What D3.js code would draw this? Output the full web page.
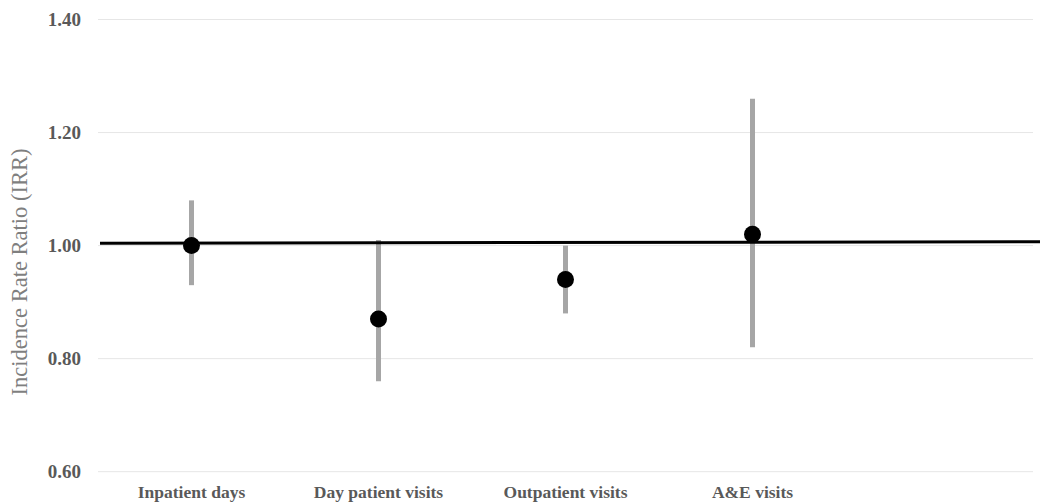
<!DOCTYPE html>
<html>
<head>
<meta charset="utf-8">
<script src="https://cdn.jsdelivr.net/npm/d3@7"></script>
<style>
  body { margin: 0; background: #fff; }
  svg { display: block; }
</style>
</head>
<body>
<div id="chart"></div>
<script>
// Data
var categories = ["Inpatient days", "Day patient visits", "Outpatient visits", "A&E visits"];
var irr = [1.00, 0.87, 0.94, 1.02];
var ciLow = [0.93, 0.76, 0.88, 0.82];
var ciHigh = [1.08, 1.01, 1.00, 1.26];
var yTicks = [0.60, 0.80, 1.00, 1.20, 1.40];
var refLine = [1.004, 1.007];   // the black "no effect" line, a touch tilted in the original

var svgWidth = 1040;
var svgHeight = 504;

var margin = { top: 19.5, bottom: 32.3, left: 98, right: 7 };
var width = svgWidth - margin.left - margin.right;
var height = svgHeight - margin.top - margin.bottom;

var svg = d3.select("#chart")
  .append("svg")
  .attr("width", svgWidth)
  .attr("height", svgHeight);

var chartGroup = svg.append("g")
  .attr("transform", `translate(${margin.left}, ${margin.top})`);

// scales - five slots, the last one is left empty
var xScale = d3.scaleBand()
  .domain(categories.concat(["_empty"]))
  .range([0, width]);

var yScale = d3.scaleLinear()
  .domain([0.6, 1.4])
  .range([height, 0]);

// gridlines
chartGroup.append("g")
  .selectAll("line")
  .data(yTicks)
  .enter()
  .append("line")
  .attr("x1", 0)
  .attr("x2", width)
  .attr("y1", d => yScale(d))
  .attr("y2", d => yScale(d))
  .attr("stroke", "#e6e6e6")
  .attr("stroke-width", 1);

// y axis labels
var leftAxis = d3.axisLeft(yScale)
  .tickValues(yTicks)
  .tickFormat(d3.format(".2f"))
  .tickSize(0)
  .tickPadding(17);

var yAxisG = chartGroup.append("g").call(leftAxis);
yAxisG.select(".domain").remove();
yAxisG.selectAll("text")
  .attr("font-family", "'Liberation Serif', 'Times New Roman', serif")
  .attr("font-weight", "bold")
  .attr("font-size", "19px")
  .attr("fill", "#595959");

// x axis labels
var bottomAxis = d3.axisBottom(xScale)
  .tickValues(categories)
  .tickSize(0)
  .tickPadding(14);

var xAxisG = chartGroup.append("g")
  .attr("transform", `translate(0, ${height})`)
  .call(bottomAxis);
xAxisG.select(".domain").remove();
xAxisG.selectAll("text")
  .attr("font-family", "'Liberation Serif', 'Times New Roman', serif")
  .attr("font-weight", "bold")
  .attr("font-size", "17.5px")
  .attr("fill", "#595959");

// y axis title
svg.append("text")
  .attr("transform", `translate(27, 272) rotate(-90)`)
  .attr("text-anchor", "middle")
  .attr("font-family", "'Liberation Serif', 'Times New Roman', serif")
  .attr("font-size", "22.5px")
  .attr("fill", "#7f7f7f")
  .text("Incidence Rate Ratio (IRR)");

var rows = categories.map(function (c, i) {
  return { cat: c, irr: irr[i], lo: ciLow[i], hi: ciHigh[i] };
});

// confidence interval bars
chartGroup.selectAll(".ci")
  .data(rows)
  .enter()
  .append("line")
  .attr("class", "ci")
  .attr("x1", d => xScale(d.cat) + xScale.bandwidth() / 2)
  .attr("x2", d => xScale(d.cat) + xScale.bandwidth() / 2)
  .attr("y1", d => yScale(d.lo))
  .attr("y2", d => yScale(d.hi))
  .attr("stroke", "#a6a6a6")
  .attr("stroke-width", 5);

// reference line at IRR = 1
chartGroup.append("line")
  .attr("x1", 2)
  .attr("x2", svgWidth - margin.left)
  .attr("y1", yScale(refLine[0]))
  .attr("y2", yScale(refLine[1]))
  .attr("stroke", "#000")
  .attr("stroke-width", 3);

// point estimates
chartGroup.selectAll(".pt")
  .data(rows)
  .enter()
  .append("circle")
  .attr("class", "pt")
  .attr("cx", d => xScale(d.cat) + xScale.bandwidth() / 2)
  .attr("cy", d => yScale(d.irr))
  .attr("r", 8.5)
  .attr("fill", "#000");
</script>
</body>
</html>
